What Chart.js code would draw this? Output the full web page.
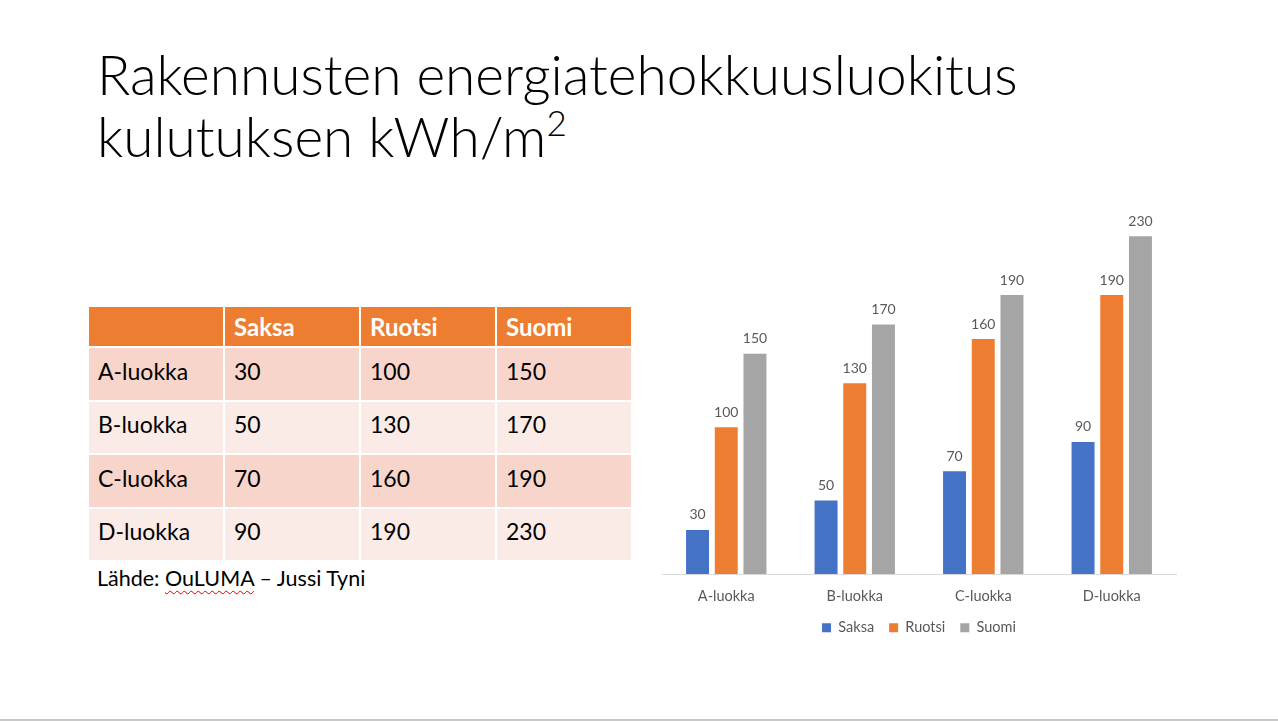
<!DOCTYPE html>
<html>
<head>
<meta charset="utf-8">
<script src="https://cdn.jsdelivr.net/npm/chart.js@4.4.1/dist/chart.umd.min.js"></script>
<style>
  html, body { margin: 0; padding: 0; background: #fff; }
  body { width: 1278px; height: 721px; position: relative; overflow: hidden; font-family: Lato, "Open Sans", sans-serif; }
  .title { position: absolute; left: 97px; top: 43px; font-weight: 300; font-size: 55px; line-height: 62px; color: #000; white-space: nowrap; }
  .title sup { font-size: 35px; line-height: 0; vertical-align: 21px; }
  table { position: absolute; left: 87px; top: 305px; border-collapse: collapse; font-size: 23px; }
  td, th { border: 2px solid #fff; padding: 0 0 0 9px; text-align: left; vertical-align: middle; width: 125px; }
  th { background: #ED7D31; color: #fff; font-weight: 700; font-size: 24px; height: 39px; }
  tr.odd td { background: #F8D5CA; }
  tr.even td { background: #FBEBE6; }
  td { height: 45.5px; padding-bottom: 6px; color: #000; }
  .src { position: absolute; left: 97px; top: 565px; font-size: 21.5px; color: #000; }
  .src .spell { text-decoration: underline wavy #e00000; text-decoration-thickness: 1px; text-underline-offset: 4px; }
  .chartbox { position: absolute; left: 660px; top: 191px; width: 520px; height: 471px; }
  .foot { position: absolute; left: 0; top: 719px; width: 1278px; height: 2px; background: #c8c8c8; }
</style>
</head>
<body>
<div class="title">Rakennusten energiatehokkuusluokitus<br>kulutuksen kWh/m<sup>2</sup></div>
<table id="tbl"></table>
<div class="src">Lähde: <span class="spell">OuLUMA</span> – Jussi Tyni</div>
<div class="chartbox"><canvas id="myChart"></canvas></div>
<div class="foot"></div>
<script>
const categories = ["A-luokka", "B-luokka", "C-luokka", "D-luokka"];
const seriesNames = ["Saksa", "Ruotsi", "Suomi"];
const saksa = [30, 50, 70, 90];
const ruotsi = [100, 130, 160, 190];
const suomi = [150, 170, 190, 230];
const seriesColors = ["#4472C4", "#ED7D31", "#A5A5A5"];

const allSeries = [saksa, ruotsi, suomi];

// table built from the same arrays
const tbl = document.getElementById("tbl");
let html = "<tr><th></th>" + seriesNames.map(n => "<th>" + n + "</th>").join("") + "</tr>";
categories.forEach((c, i) => {
  html += '<tr class="' + (i % 2 === 0 ? "odd" : "even") + '"><td>' + c + "</td>" +
    allSeries.map(s => "<td>" + s[i] + "</td>").join("") + "</tr>";
});
tbl.innerHTML = html;

const valueLabels = {
  id: "valueLabels",
  afterDatasetsDraw(chart) {
    const ctx = chart.ctx;
    ctx.save();
    ctx.font = "14px Lato, sans-serif";
    ctx.fillStyle = "#595959";
    ctx.textAlign = "center";
    ctx.textBaseline = "bottom";
    chart.data.datasets.forEach((ds, di) => {
      const meta = chart.getDatasetMeta(di);
      meta.data.forEach((bar, i) => {
        ctx.fillText(ds.data[i], bar.x, bar.y - 8);
      });
    });
    ctx.restore();
  }
};

// pull the legend a bit closer to the category labels
const legendNudge = {
  id: "legendNudge",
  afterLayout(chart) {
    const lg = chart.legend;
    if (lg) { lg.top -= 13; lg.bottom -= 13; }
  }
};

const ctx = document.getElementById("myChart").getContext("2d");
const myChart = new Chart(ctx, {
  type: "bar",
  data: {
    labels: categories,
    datasets: allSeries.map((s, i) => ({
      label: seriesNames[i],
      data: s,
      backgroundColor: seriesColors[i],
      borderWidth: 0,
      categoryPercentage: 0.67,
      barPercentage: 0.8,
    })),
  },
  options: {
    responsive: true,
    maintainAspectRatio: false,
    animation: false,
    layout: { padding: { left: 2, right: 4, top: 16, bottom: 4 } },
    scales: {
      x: {
        grid: { display: false, drawTicks: false },
        border: { display: true, color: "#D9D9D9", width: 1 },
        ticks: { color: "#595959", font: { family: "Lato", size: 14.5, lineHeight: 1 }, padding: 15 },
      },
      y: { display: false, min: 0, max: 250 },
    },
    plugins: {
      legend: {
        position: "bottom",
        labels: {
          color: "#595959",
          font: { family: "Lato", size: 14.5, lineHeight: 1 },
          boxWidth: 9,
          boxHeight: 9,
          padding: 15,
        },
      },
      tooltip: { enabled: false },
    },
  },
  plugins: [valueLabels, legendNudge],
});
</script>
</body>
</html>
